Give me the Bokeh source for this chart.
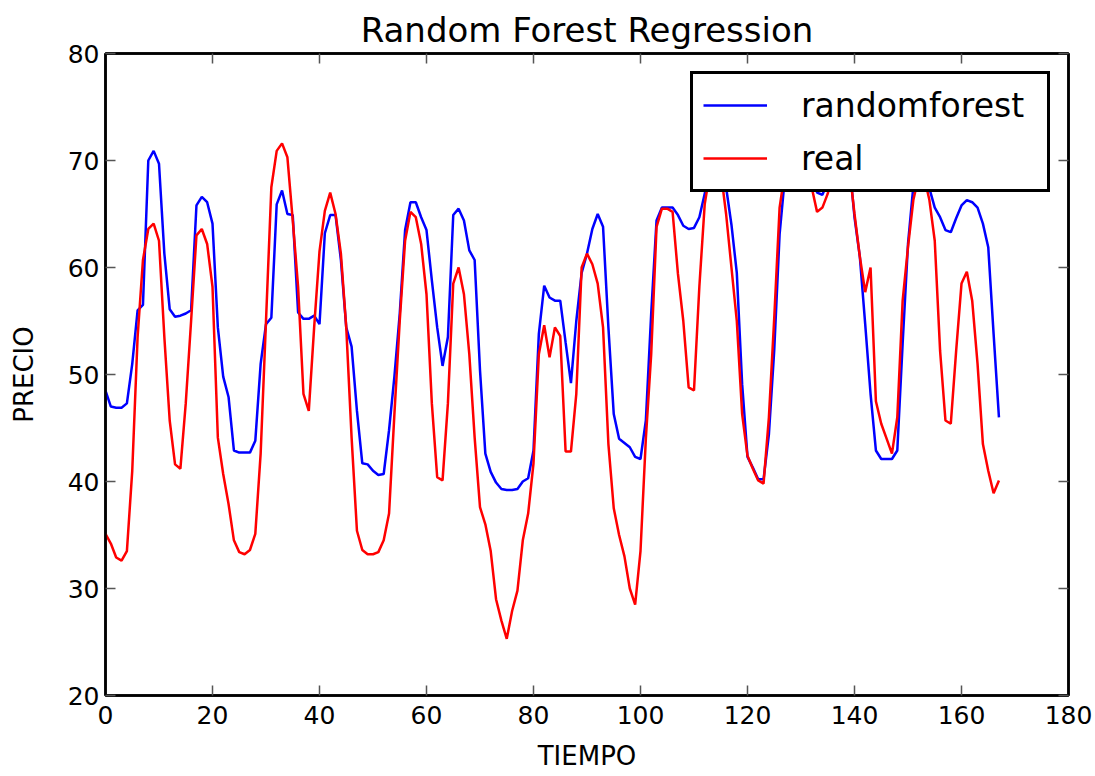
from bokeh.plotting import figure
from bokeh.models import LinearAxis, Range1d, Legend, LegendItem, CustomJSTickFormatter, FixedTicker
from bokeh.embed import file_html
from bokeh.resources import INLINE

tiempo = list(range(168))

randomforest = [
    48.5, 47.0, 46.9, 46.9, 47.3, 51.0, 56.0, 56.5, 70.0, 70.9,
    69.7, 61.3, 56.1, 55.4, 55.5, 55.7, 56.0, 65.8, 66.6, 66.1,
    64.1, 54.4, 49.8, 47.9, 42.9, 42.7, 42.7, 42.7, 43.8, 51.0,
    54.7, 55.3, 65.9, 67.2, 65.0, 64.9, 55.8, 55.2, 55.2, 55.5,
    54.7, 63.2, 64.9, 64.9, 60.7, 54.4, 52.6, 46.6, 41.7, 41.6,
    41.0, 40.6, 40.7, 44.8, 49.8, 55.7, 63.5, 66.1, 66.1, 64.7,
    63.5, 58.8, 54.4, 50.8, 53.5, 64.9, 65.5, 64.4, 61.6, 60.7,
    50.4, 42.6, 40.9, 39.9, 39.3, 39.2, 39.2, 39.3, 40.0, 40.3,
    42.9, 53.8, 58.3, 57.2, 56.9, 56.9, 53.0, 49.2, 55.0, 59.5,
    61.3, 63.6, 65.0, 63.8, 54.4, 46.3, 44.0, 43.6, 43.2, 42.3,
    42.1, 45.7, 55.7, 64.4, 65.6, 65.6, 65.6, 64.9, 63.9, 63.6,
    63.7, 64.7, 66.9, 69.0, 70.0, 69.5, 67.5, 64.0, 59.5, 49.1,
    42.3, 41.3, 40.2, 40.2, 44.4, 52.3, 63.1, 68.5, 71.0, 72.0,
    72.0, 71.5, 69.5, 67.0, 66.8, 68.0, 70.5, 72.0, 72.0, 70.0,
    64.7, 61.0, 54.7, 48.2, 42.9, 42.1, 42.1, 42.1, 42.9, 52.9,
    62.2, 67.6, 69.5, 69.0, 67.4, 65.6, 64.7, 63.5, 63.3, 64.6,
    65.8, 66.3, 66.1, 65.6, 64.1, 61.9, 53.8, 46.0,
]

real = [
    35.1, 34.2, 32.9, 32.6, 33.5, 41.0, 53.5, 60.7, 63.6, 64.1,
    62.5, 53.5, 45.7, 41.6, 41.2, 47.3, 55.0, 63.0, 63.6, 62.2,
    58.2, 44.1, 40.7, 37.9, 34.5, 33.4, 33.2, 33.6, 35.1, 42.6,
    55.0, 67.5, 70.9, 71.6, 70.3, 64.4, 58.2, 48.2, 46.6, 54.4,
    61.5, 65.3, 67.0, 65.0, 61.3, 54.4, 44.1, 35.4, 33.6, 33.2,
    33.2, 33.4, 34.5, 37.0, 46.3, 55.0, 62.5, 65.2, 64.7, 62.2,
    57.5, 47.3, 40.4, 40.1, 47.3, 58.5, 60.0, 57.5, 51.9, 44.1,
    37.6, 36.0, 33.5, 29.0, 27.0, 25.3, 27.9, 29.8, 34.5, 37.0,
    41.7, 51.9, 54.6, 51.6, 54.4, 53.6, 42.8, 42.8, 48.2, 60.0,
    61.3, 60.3, 58.5, 54.4, 43.5, 37.5, 35.0, 33.0, 30.0, 28.5,
    33.5, 44.0, 51.9, 63.8, 65.5, 65.5, 65.2, 59.4, 55.0, 48.8,
    48.5, 58.2, 65.9, 69.0, 70.0, 69.0, 65.0, 60.0, 55.0, 46.3,
    42.4, 41.2, 40.1, 39.8, 46.0, 55.3, 65.6, 69.0, 71.0, 72.0,
    71.0, 70.0, 67.5, 65.2, 65.6, 66.9, 69.0, 71.0, 71.0, 69.5,
    65.0, 61.0, 57.7, 60.0, 47.5, 45.4, 44.0, 42.6, 46.0, 56.9,
    61.9, 66.3, 68.5, 68.5, 66.3, 62.5, 52.2, 45.7, 45.4, 52.2,
    58.5, 59.6, 56.9, 51.0, 43.5, 41.0, 38.9, 40.1,
]

x_ticks = [0, 20, 40, 60, 80, 100, 120, 140, 160, 180]
y_ticks = [20, 30, 40, 50, 60, 70, 80]

FONT = "DejaVu Sans"

p = figure(
    width=1095, height=776,
    x_range=Range1d(0, 180), y_range=Range1d(20, 80),
    output_backend="svg", toolbar_location=None,
    title="Random Forest Regression",
    min_border_left=105, min_border_right=27, min_border_top=53, min_border_bottom=81,
)

p.title.text_font = FONT
p.title.text_font_size = "34px"
p.title.text_font_style = "normal"
p.title.align = "center"
p.title.text_color = "black"
p.title.standoff = 8

p.grid.visible = False
p.outline_line_color = "black"
p.outline_line_width = 2.5
p.background_fill_color = "white"
p.border_fill_color = "white"

for ax in (p.xaxis[0], p.yaxis[0]):
    ax.axis_line_color = "black"
    ax.axis_line_width = 2.5
    ax.major_tick_in = 10
    ax.major_tick_out = 0
    ax.major_tick_line_color = "#555555"
    ax.major_tick_line_width = 1.5
    ax.minor_tick_line_color = None
    ax.major_label_text_font = FONT
    ax.major_label_text_font_size = "25px"
    ax.major_label_text_color = "black"
    ax.axis_label_text_font = FONT
    ax.axis_label_text_font_size = "26px"
    ax.axis_label_text_font_style = "normal"
    ax.axis_label_text_color = "black"

p.xaxis[0].ticker = FixedTicker(ticks=x_ticks)
p.yaxis[0].ticker = FixedTicker(ticks=y_ticks)
p.xaxis[0].axis_label = "TIEMPO"
p.yaxis[0].axis_label = "PRECIO"
p.xaxis[0].major_label_standoff = 10
p.xaxis[0].axis_label_standoff = 14
p.yaxis[0].major_label_standoff = 6
p.yaxis[0].axis_label_standoff = 26

blank = CustomJSTickFormatter(code="return ''")
top = LinearAxis(ticker=FixedTicker(ticks=x_ticks), formatter=blank)
right = LinearAxis(ticker=FixedTicker(ticks=y_ticks), formatter=blank)
for ax in (top, right):
    ax.axis_line_color = "black"
    ax.axis_line_width = 2.5
    ax.major_tick_in = 10
    ax.major_tick_out = 0
    ax.major_tick_line_color = "#555555"
    ax.major_tick_line_width = 1.5
    ax.minor_tick_line_color = None
    ax.major_label_standoff = 0
    ax.major_label_text_font_size = "1px"
p.add_layout(top, "above")
p.add_layout(right, "right")

r1 = p.line(tiempo, randomforest, line_color="#0000ff", line_width=2.5)
r2 = p.line(tiempo, real, line_color="#ff0000", line_width=2.5)

legend = Legend(
    items=[LegendItem(label="randomforest", renderers=[r1]),
           LegendItem(label="real", renderers=[r2])],
    location="top_right",
    margin=18,
    padding=10,
    spacing=11,
    glyph_width=64,
    glyph_height=42,
    label_width=236,
    label_height=42,
    label_standoff=34,
    label_text_font=FONT,
    label_text_font_size="33px",
    label_text_color="black",
    border_line_color="black",
    border_line_width=3,
    border_line_alpha=1.0,
    background_fill_color="white",
    background_fill_alpha=1.0,
)
p.add_layout(legend, "center")

open("out.html", "w").write(file_html(p, INLINE))
